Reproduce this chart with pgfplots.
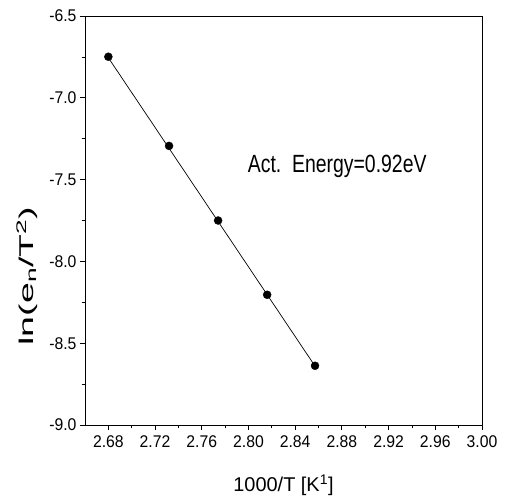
\documentclass[border=0pt]{standalone}
\usepackage{fontspec}
\setmainfont{Liberation Sans}
\newfontfamily\tickfont[FakeStretch=0.93]{Liberation Sans}
\newfontfamily\annfont[FakeStretch=0.78]{Liberation Sans}
\newfontfamily\ylabfont[FakeStretch=1.88]{Liberation Sans}
\usepackage{pgfplots}
\pgfplotsset{compat=1.18}

\begin{document}
\begin{tikzpicture}
\begin{axis}[
    name=ax,
    scale only axis,
    width=397bp, height=409bp,
    xmin=2.66, xmax=3.00,
    ymin=-9.0, ymax=-6.5,
    xtick={2.68,2.72,...,3.001},
    ytick={-9.0,-8.5,...,-6.4},
    minor x tick num=1,
    minor y tick num=1,
    tick align=outside,
    tick pos=left,
    major tick length=5bp,
    minor tick length=3bp,
    axis line style={line width=0.8bp},
    tick style={line width=0.8bp, black},
    /pgf/number format/assume math mode=true,
    xticklabel style={/pgf/number format/fixed, /pgf/number format/fixed zerofill, /pgf/number format/precision=2, yshift=-2bp},
    yticklabel style={/pgf/number format/fixed, /pgf/number format/fixed zerofill, /pgf/number format/precision=1},
    ticklabel style={font=\tickfont\fontsize{17}{19}\selectfont},
    xlabel={1000/T [K\textsuperscript{1}]},
    ylabel={ln(e\textsubscript{n}/T\textsuperscript{2})},
    xlabel style={font=\fontsize{20}{24}\selectfont, at={(axis description cs:0.5,-0.147)}, anchor=center},
    ylabel style={font=\ylabfont\fontsize{20}{24}\selectfont, at={(axis description cs:-0.146,0.364)}, anchor=center},
]
% fitted line
\addplot[black, line width=0.7bp] coordinates {(2.680,-6.755) (2.857,-8.640)};
% measured points
\addplot[only marks, mark=*, mark size=4bp, black] coordinates {
    (2.680,-6.749) (2.732,-7.294) (2.774,-7.750) (2.816,-8.204) (2.857,-8.638)};
\node[font=\annfont\fontsize{25}{28}\selectfont, anchor=center] at (axis cs:2.876,-7.42) {Act.\ \ Energy=0.92eV};
\end{axis}
\pgfresetboundingbox
\path ([shift={(-85bp,-76bp)}]ax.south west) rectangle ([shift={(23bp,16bp)}]ax.north east);
\end{tikzpicture}
\end{document}
